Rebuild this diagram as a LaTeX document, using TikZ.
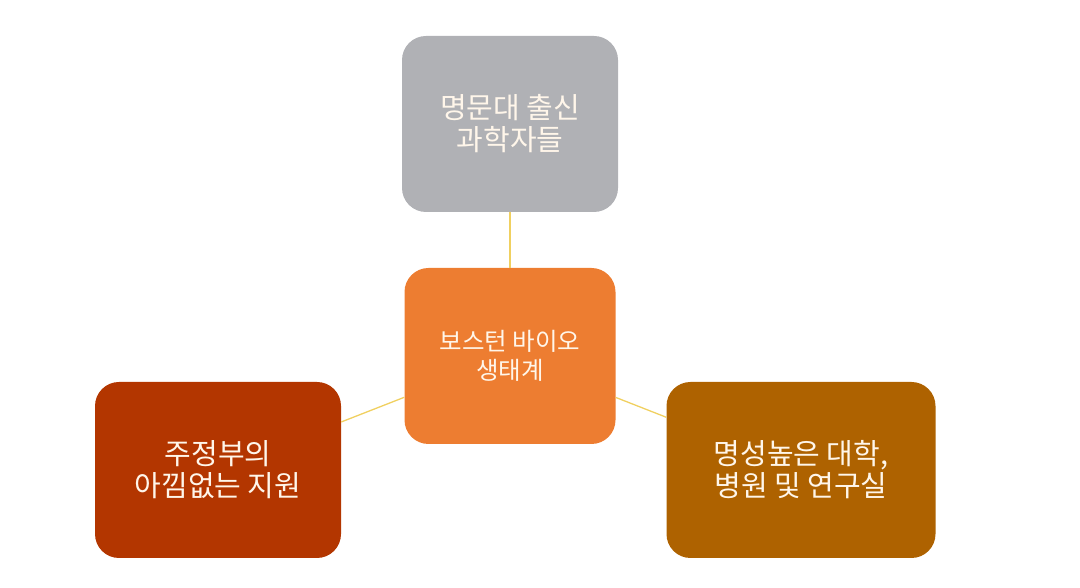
\documentclass[tikz,border=0pt]{standalone}
\usepackage{fontspec}
\setmainfont{Noto Sans CJK KR}
\definecolor{boxgray}{HTML}{B0B1B5}
\definecolor{boxorange}{HTML}{ED7D31}
\definecolor{boxred}{HTML}{B33600}
\definecolor{boxbrown}{HTML}{AE6200}
\definecolor{linkyellow}{HTML}{F0D060}
\definecolor{textcream}{HTML}{FFF6EA}
\tikzset{
  box/.style={rounded corners=24pt, minimum height=176pt, inner sep=0pt,
    text=textcream, align=center, font=\fontsize{29}{32}\selectfont},
  link/.style={linkyellow, line width=1.3pt}
}
\begin{document}
\begin{tikzpicture}[x=1pt,y=1pt]
        \useasboundingbox (0,0) rectangle (1080,588);

        \node [box, fill=boxorange, minimum width=211pt, font=\fontsize{24.5}{29}\selectfont] (hub) at (510,232) {보스턴 바이오\\생태계};
        \node [box, fill=boxgray, minimum width=216pt] (alumni) at (510,464) {명문대 출신\\과학자들};
        \node [box, fill=boxred, minimum width=246pt] (state) at (218,118) {주정부의\\아낌없는 지원};
        \node [box, fill=boxbrown, minimum width=269pt] (labs) at (801,118) {명성높은 대학,\\병원 및 연구실};

        \draw [link] (hub) -- (alumni);
        \draw [link] (hub) -- (state);
        \draw [link] (hub) -- (labs);
    \end{tikzpicture}
\end{document}
